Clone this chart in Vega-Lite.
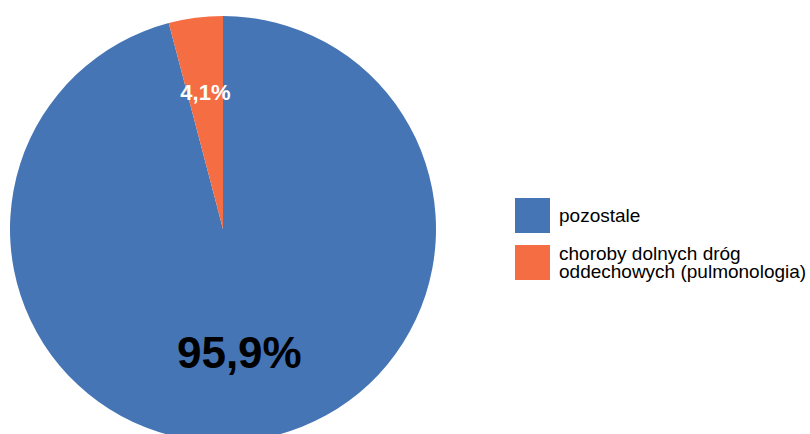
{
  "$schema": "https://vega.github.io/schema/vega-lite/v6.json",
  "width": 446,
  "height": 458,
  "padding": 0,
  "background": "white",
  "config": {"font": "Liberation Sans", "view": {"stroke": null}},
  "data": {
    "values": [
      {"cat": "pozostale", "value": 95.9, "label": "95,9%"},
      {"cat": "choroby dolnych dróg oddechowych (pulmonologia)", "value": 4.1, "label": "4,1%"}
    ]
  },
  "encoding": {
    "theta": {"field": "value", "type": "quantitative", "stack": true},
    "order": {"field": "value", "type": "quantitative", "sort": "descending"}
  },
  "layer": [
    {
      "mark": {"type": "arc", "outerRadius": 213},
      "encoding": {
        "color": {
          "field": "cat",
          "type": "nominal",
          "scale": {
            "domain": ["pozostale", "choroby dolnych dróg oddechowych (pulmonologia)"],
            "range": ["#4575b4", "#f46d43"]
          },
          "legend": {
            "title": null,
            "orient": "none",
            "legendX": 515,
            "legendY": 198,
            "symbolType": "square",
            "symbolSize": 1225,
            "symbolStrokeWidth": 0,
            "symbolOpacity": 1,
            "labelFontSize": 19,
            "labelColor": "black",
            "labelOffset": 9,
            "labelLimit": 400,
            "rowPadding": 11,
            "labelExpr": "datum.label == 'choroby dolnych dróg oddechowych (pulmonologia)' ? ['choroby dolnych dróg', 'oddechowych (pulmonologia)'] : datum.label",
            "encode": {
              "labels": {
                "update": {
                  "lineHeight": {"value": 18.5},
                  "dy": {"signal": "datum.value == 'pozostale' ? 0 : -9"}
                }
              }
            }
          }
        }
      }
    },
    {
      "mark": {"type": "text", "radius": 127, "fontSize": 44, "fontWeight": "bold", "color": "black"},
      "encoding": {
        "text": {"condition": {"test": "datum.cat == 'pozostale'", "field": "label"}, "value": ""}
      }
    },
    {
      "mark": {"type": "text", "radius": 137, "fontSize": 22, "fontWeight": "bold", "color": "white"},
      "encoding": {
        "text": {"condition": {"test": "datum.cat != 'pozostale'", "field": "label"}, "value": ""}
      }
    }
  ]
}
